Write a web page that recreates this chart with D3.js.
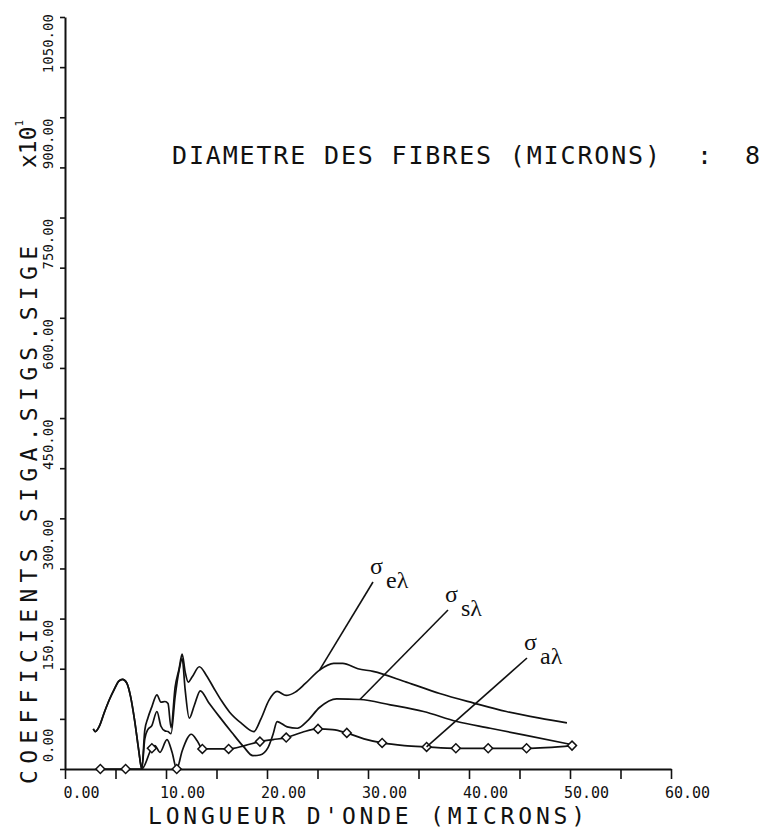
<!DOCTYPE html>
<html>
<head>
<meta charset="utf-8">
<script src="https://cdn.jsdelivr.net/npm/d3@7"></script>
<style>
  html, body { margin: 0; padding: 0; background: #fff; }
  svg { display: block; }
  .plot-text { font-family: "DejaVu Sans Mono", "Liberation Mono", monospace; fill: #111; }
  .sym { font-family: "Liberation Serif", "DejaVu Serif", serif; fill: #111; }
</style>
</head>
<body>
<svg id="chart" width="763" height="830"></svg>
<script>
// Extinction coefficient sigma_e (x10) against wavelength (microns)
const lambdaE = [2.8, 3.0, 3.4, 3.9, 4.4, 4.9, 5.3, 5.7, 6.1, 6.5, 6.9, 7.3, 7.6,
  7.9, 8.2, 8.6, 9.1, 9.5, 9.9, 10.2, 10.5, 10.9, 11.3, 11.6, 11.9, 12.2, 12.6, 13.3,
  14.0, 14.7, 15.5, 16.3, 17.5, 18.7, 19.4, 20.2, 21.0, 21.9, 22.8, 23.8, 25.2, 26.6,
  27.5, 29.0, 30.5, 33.8, 37.1, 40.4, 43.7, 47.0, 49.7];
const sigmaE = [60, 56, 64, 85, 104, 120, 131, 134, 129, 108, 72, 28, 0,
  58, 76, 93, 111, 100, 101, 98, 62, 122, 150, 172, 145, 130, 138, 153,
  140, 122, 102, 85, 68, 56, 75, 103, 116, 110, 115, 128, 148, 158,
  158, 150, 146, 130, 113, 99, 86, 76, 69];

// Scattering coefficient sigma_s (x10)
const lambdaS = [2.8, 3.0, 3.4, 3.9, 4.4, 4.9, 5.3, 5.7, 6.1, 6.5, 6.9, 7.3, 7.6,
  7.9, 8.2, 8.6, 9.1, 9.5, 9.9, 10.2, 10.5, 10.9, 11.3, 11.6, 11.9, 12.3, 12.8, 13.4,
  14.2, 15.3, 16.5, 17.7, 18.6, 19.3, 20.1, 20.6, 21.0, 22.0, 23.0, 24.0, 25.2, 26.9,
  29.2, 32.2, 35.5, 38.8, 42.1, 45.4, 50.0];
const sigmaS = [60, 56, 64, 85, 104, 120, 131, 134, 129, 108, 72, 28, 0,
  45, 59, 65, 86, 64, 57, 56, 53, 108, 148, 165, 118, 76, 95, 117,
  100, 78, 55, 33, 20, 21, 32, 52, 71, 63, 61, 72, 92, 105,
  104, 96, 86, 71, 61, 51, 37];

// Absorption coefficient sigma_a (x10)
const lambdaA = [3.5, 6.0, 7.6, 8.6, 8.9, 9.4, 10.1, 10.6, 11.06, 11.6, 12.5, 13.1, 13.6,
  16.2, 17.8, 19.3, 20.6, 21.9, 23.5, 25.05, 26.5, 27.9, 29.6, 31.4, 33.6, 35.8,
  38.7, 41.9, 45.7, 50.2];
const sigmaA = [0, 0, 0, 31, 35, 25, 44, 25, 0, 27, 52, 42, 30,
  30, 35, 41, 44, 47, 55, 60, 59, 54, 45, 39, 35, 33,
  31, 31, 31, 35];
// wavelengths carrying a diamond marker on the absorption curve
const markerLambdaA = [3.5, 6.0, 8.6, 11.06, 13.6, 16.2, 19.3, 21.9, 25.05, 27.9,
  31.4, 35.8, 38.7, 41.9, 45.7, 50.2];

// axis ticks
const xTicks = d3.range(0, 61, 5);
const xLabelTicks = [0, 10, 20, 30, 40, 50, 60];
const yTicks = d3.range(0, 1126, 75);
const yLabelTicks = [0, 150, 300, 450, 600, 750, 900, 1050];

// curve labels and the wavelength where each leader meets its curve
const curveNames = ["e", "s", "a"];
const leaderLambda = [25.2, 29.2, 35.8];

const svg = d3.select("#chart");
const x = d3.scaleLinear().domain([0, 60]).range([65, 671]);
const y = d3.scaleLinear().domain([0, 1125]).range([769, 17]);
const fmt = d3.format(".2f");

// ---- axes ----
const xAxis = d3.axisBottom(x)
  .tickValues(xTicks)
  .tickSize(10)
  .tickSizeOuter(0)
  .tickFormat(d => xLabelTicks.includes(d) ? fmt(d) : "");
const gx = svg.append("g").attr("transform", `translate(0,${y(0)})`).call(xAxis);
gx.select(".domain").attr("stroke", "#111").attr("stroke-width", 2);
gx.selectAll(".tick line").attr("stroke", "#111").attr("stroke-width", 1.6);
gx.selectAll(".tick text")
  .attr("class", "plot-text")
  .attr("font-size", 15)
  .attr("text-anchor", "middle")
  .attr("x", 16).attr("y", 29).attr("dy", 0);

const yAxis = d3.axisLeft(y)
  .tickValues(yTicks)
  .tickSize(5)
  .tickSizeOuter(0)
  .tickFormat(d => yLabelTicks.includes(d) ? fmt(d) : "");
const gy = svg.append("g").attr("transform", `translate(${x(0)},0)`).call(yAxis);
gy.select(".domain").attr("stroke", "#111").attr("stroke-width", 2);
gy.selectAll(".tick line").attr("stroke", "#111").attr("stroke-width", 1.6);
gy.selectAll(".tick text")
  .attr("class", "plot-text")
  .attr("font-size", 14)
  .attr("text-anchor", "middle")
  .attr("transform", "rotate(-90)")
  .attr("x", 24).attr("y", -12).attr("dy", 0);

// ---- titles ----
svg.append("text").attr("class", "plot-text")
  .attr("x", 148).attr("y", 824)
  .attr("font-size", 23)
  .attr("textLength", 437).attr("lengthAdjust", "spacing")
  .text("LONGUEUR D'ONDE (MICRONS)");

svg.append("text").attr("class", "plot-text")
  .attr("transform", "translate(37,784) rotate(-90)")
  .attr("font-size", 23)
  .attr("textLength", 538).attr("lengthAdjust", "spacing")
  .text("COEFFICIENTS SIGA.SIGS.SIGE");

const mult = svg.append("text").attr("class", "plot-text")
  .attr("transform", "translate(36,168) rotate(-90)")
  .attr("font-size", 23);
mult.append("tspan").text("x10");
mult.append("tspan").attr("font-size", 11).attr("dy", -13).text("1");

svg.append("text").attr("class", "plot-text")
  .attr("x", 172).attr("y", 164)
  .attr("font-size", 25)
  .attr("textLength", 488).attr("lengthAdjust", "spacing")
  .text("DIAMETRE DES FIBRES (MICRONS)");
svg.append("text").attr("class", "plot-text")
  .attr("x", 697).attr("y", 164).attr("font-size", 25).text(":");
svg.append("text").attr("class", "plot-text")
  .attr("x", 745).attr("y", 164).attr("font-size", 25).text("8");

// ---- curves ----
const line = d3.line().x(d => x(d[0])).y(d => y(d[1])).curve(d3.curveMonotoneX);
const series = [
  d3.zip(lambdaE, sigmaE),
  d3.zip(lambdaS, sigmaS),
  d3.zip(lambdaA, sigmaA)
];
svg.append("g").selectAll("path").data(series).join("path")
  .attr("d", line)
  .attr("fill", "none")
  .attr("stroke", "#111")
  .attr("stroke-width", 1.7)
  .attr("stroke-linejoin", "round");

// diamond markers on the absorption curve
const markers = d3.zip(lambdaA, sigmaA).filter(d => markerLambdaA.includes(d[0]));
svg.append("g").selectAll("path").data(markers).join("path")
  .attr("d", d3.symbol(d3.symbolSquare, 40))
  .attr("transform", d => `translate(${x(d[0])},${y(d[1])}) rotate(45)`)
  .attr("fill", "#fff")
  .attr("stroke", "#111")
  .attr("stroke-width", 1.5);

// ---- curve labels with leader lines ----
const seriesLambda = [lambdaE, lambdaS, lambdaA];
const seriesValue = [sigmaE, sigmaS, sigmaA];
const leaderStart = [[373, 582], [448, 610], [527, 658]];
curveNames.forEach((name, i) => {
  const k = seriesLambda[i].indexOf(leaderLambda[i]);
  const ax = x(leaderLambda[i]), ay = y(seriesValue[i][k]);
  const [sx, sy] = leaderStart[i];
  svg.append("line")
    .attr("x1", sx).attr("y1", sy).attr("x2", ax).attr("y2", ay)
    .attr("stroke", "#111").attr("stroke-width", 1.6);
  svg.append("text").attr("class", "sym")
    .attr("x", sx - 3).attr("y", sy - 8)
    .attr("font-size", 24).text("σ");
  svg.append("text").attr("class", "sym")
    .attr("x", sx + 13).attr("y", sy + 6)
    .attr("font-size", 24).text(name + "λ");
});
</script>
</body>
</html>
